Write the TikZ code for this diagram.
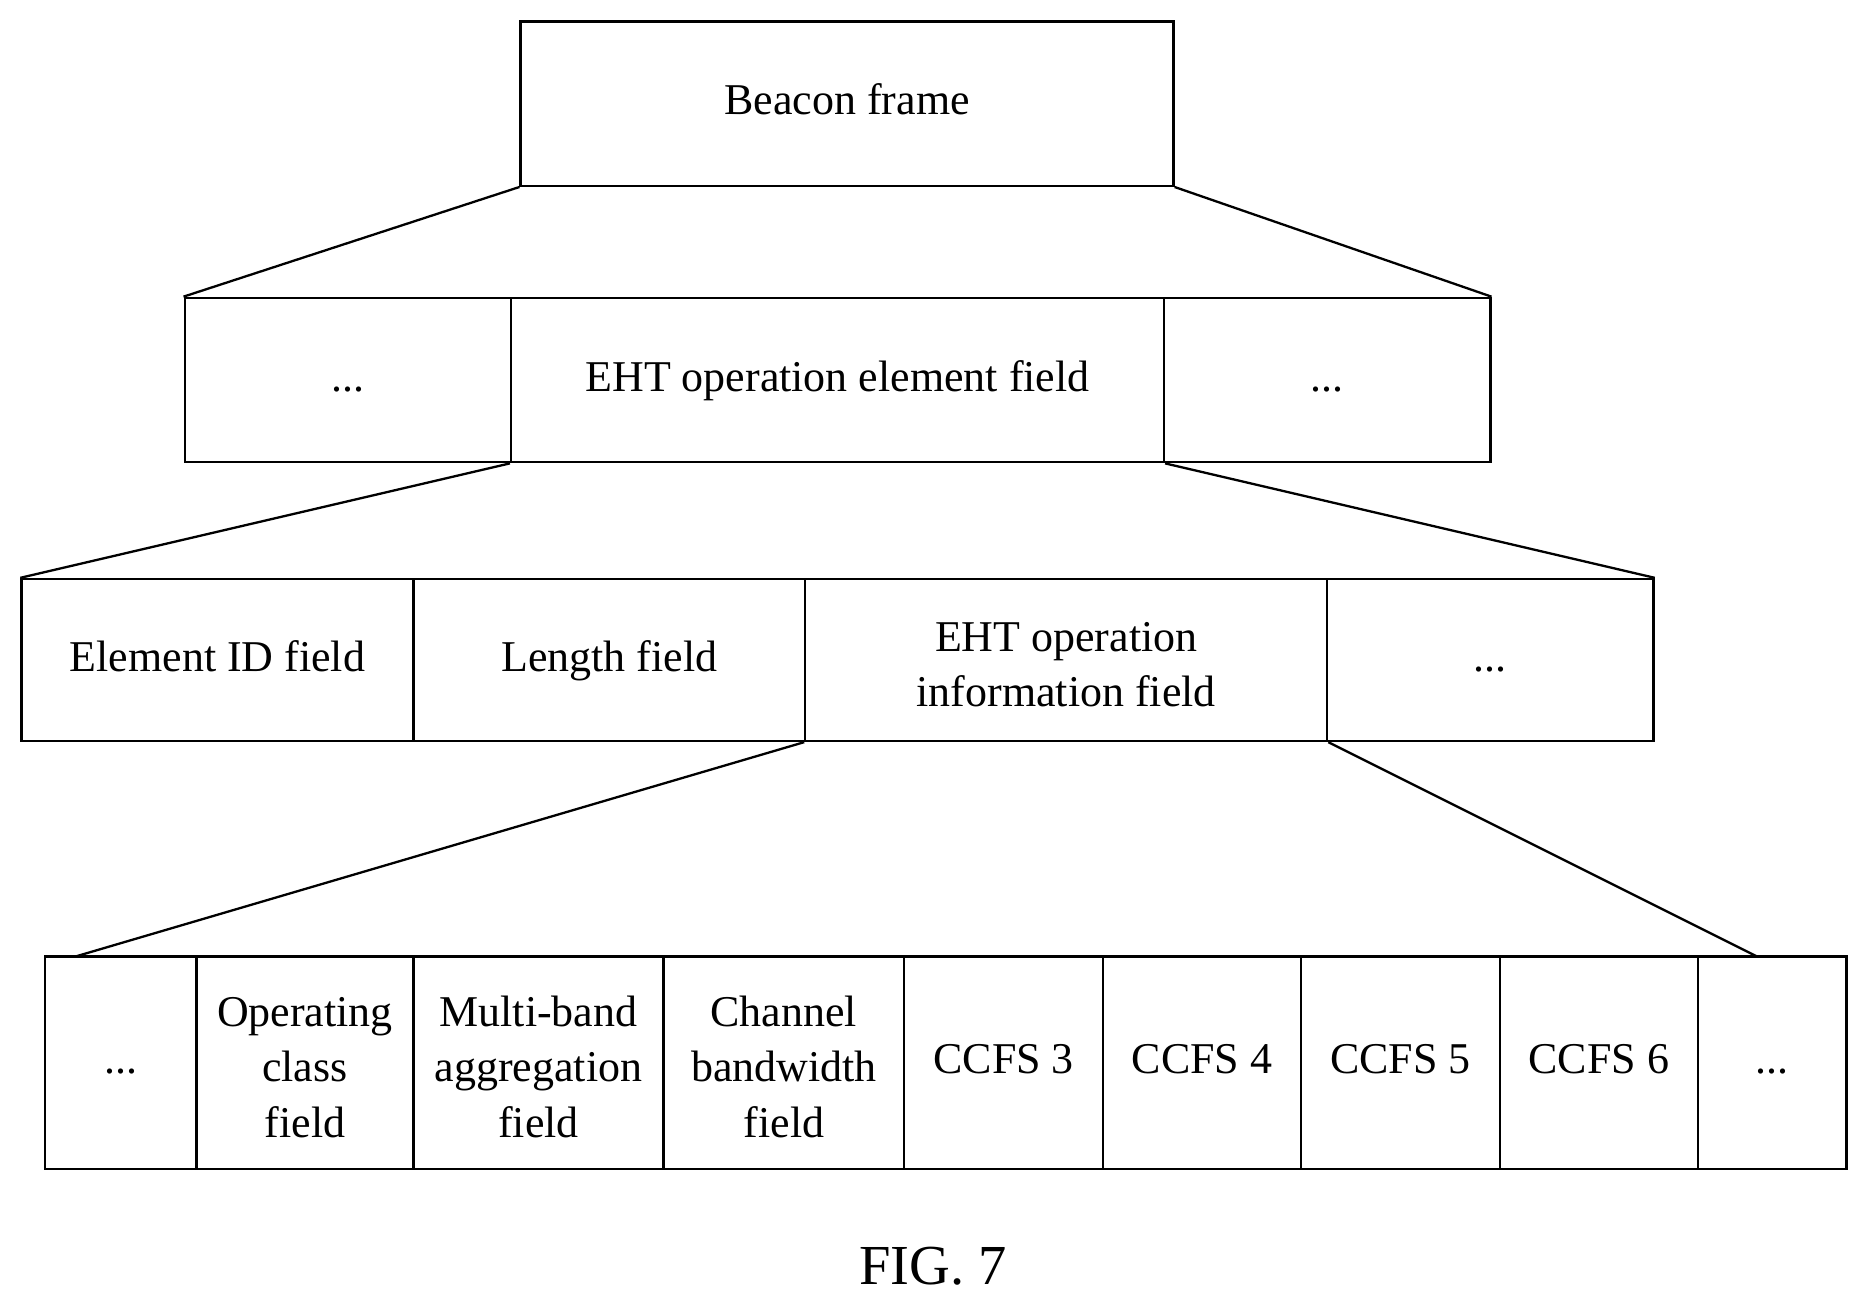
\documentclass[tikz,border=0pt]{standalone}
\usepackage{fontspec}
\setmainfont{Liberation Serif}
\begin{document}
\begin{tikzpicture}[x=0.02cm,y=-0.02cm,
 box/.style={draw,line width=1.1pt,inner sep=0pt,align=center,font=\fontsize{21}{26.5}\selectfont},
 ln/.style={line width=1.1pt}]
\useasboundingbox (0,0) rectangle (1568,1097);
\newcommand{\bx}[6]{\node[box,minimum width={(#4-#2)*0.02cm},minimum height={(#5-#3)*0.02cm}] (#1) at ({(#2+#4)/2},{(#3+#5)/2}) {\strut#6};}
\bx{b}{437}{18}{985}{156}{Beacon frame}
\bx{ra}{155}{250}{429}{388}{...}
\bx{rb}{429}{250}{977}{388}{EHT operation element field}
\bx{rc}{977}{250}{1251}{388}{...}
\bx{sa}{18}{486}{347}{622}{Element ID field}
\bx{sb}{347}{486}{676}{622}{Length field}
\bx{sc}{676}{486}{1114}{622}{EHT operation\\information field}
\bx{sd}{1114}{486}{1388}{622}{...}
\bx{ta}{38}{803}{165}{981}{...}
\bx{tb}{165}{803}{347}{981}{Operating\\class\\field}
\bx{tc}{347}{803}{557}{981}{Multi-band\\aggregation\\field}
\bx{td}{557}{803}{759}{981}{Channel\\bandwidth\\field}
\bx{te}{759}{803}{926}{981}{CCFS 3}
\bx{tf}{926}{803}{1092}{981}{CCFS 4}
\bx{tg}{1092}{803}{1259}{981}{CCFS 5}
\bx{th}{1259}{803}{1425}{981}{CCFS 6}
\bx{ti}{1425}{803}{1550}{981}{...}
\coordinate (pl) at (63,803);
\coordinate (pr) at (1475,803);
\draw[ln] (b.south west) -- (ra.north west);
\draw[ln] (b.south east) -- (rc.north east);
\draw[ln] (rb.south west) -- (sa.north west);
\draw[ln] (rb.south east) -- (sd.north east);
\draw[ln] (sc.south west) -- (pl);
\draw[ln] (sc.south east) -- (pr);
\node[font=\fontsize{27}{32}\selectfont] (fig) at (783,1063) {FIG. 7};
\end{tikzpicture}
\end{document}
